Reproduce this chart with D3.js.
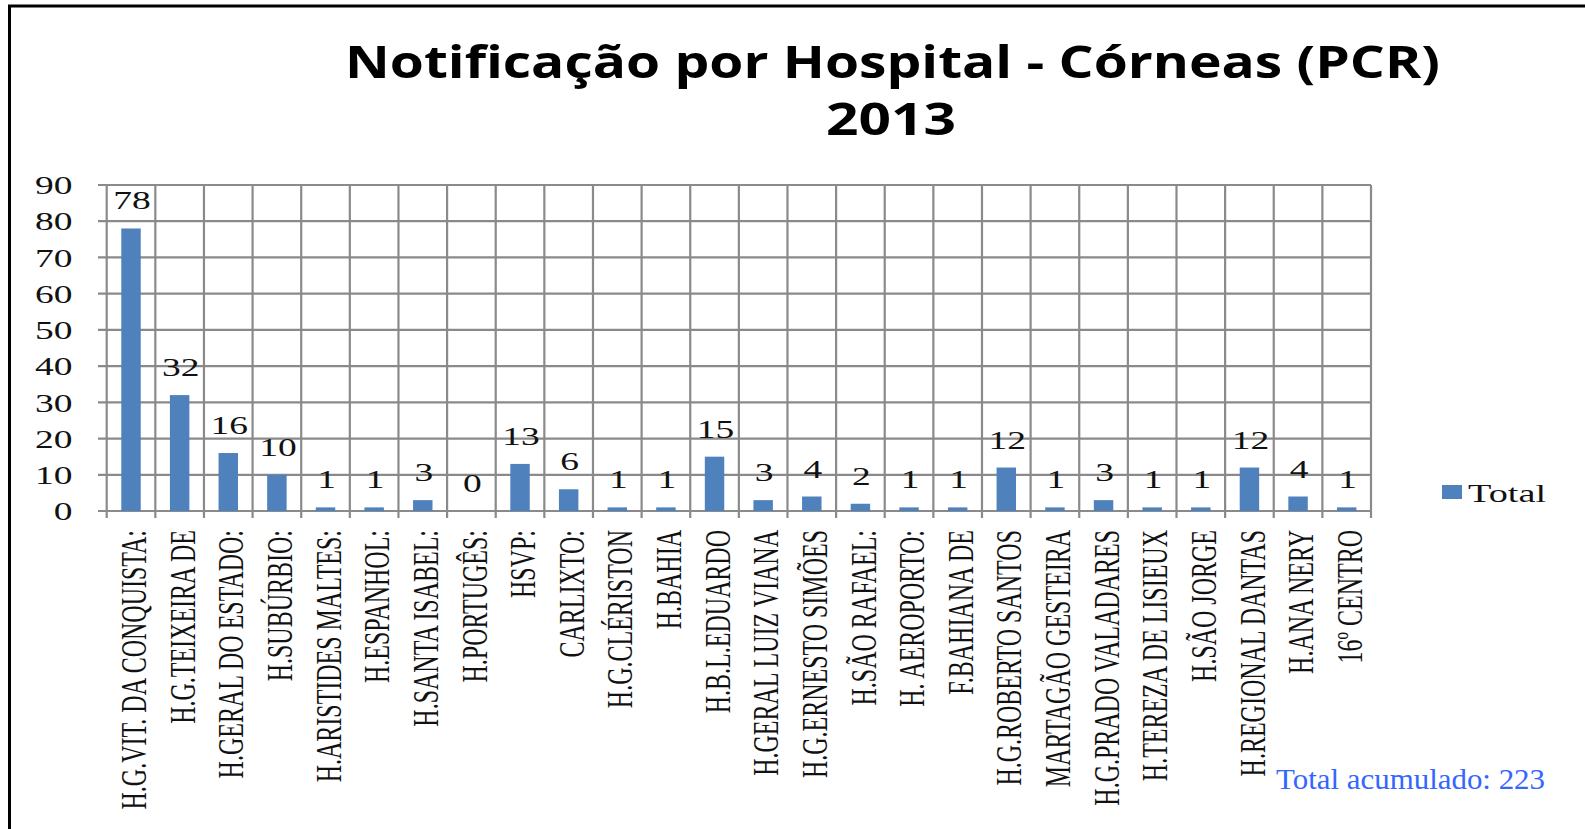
<!DOCTYPE html>
<html>
<head>
<meta charset="utf-8">
<title>Notificação por Hospital - Córneas (PCR) 2013</title>
<script src="https://d3js.org/d3.v7.min.js"></script>
<style>
  body { margin: 0; background: #fff; }
  svg { display: block; }
</style>
</head>
<body>
<div id="chart"></div>
<script>
// ---------------- data ----------------
const hospitals = [
  "H.G.VIT. DA CONQUISTA:", "H.G.TEIXEIRA DE", "H.GERAL DO ESTADO:", "H.SUBÚRBIO:",
  "H.ARISTIDES MALTES:", "H.ESPANHOL:", "H.SANTA ISABEL:", "H.PORTUGÊS:", "HSVP:",
  "CARLIXTO:", "H.G.CLÉRISTON", "H.BAHIA", "H.B.L.EDUARDO", "H.GERAL LUIZ VIANA",
  "H.G.ERNESTO SIMÕES", "H.SÃO RAFAEL:", "H. AEROPORTO:", "F.BAHIANA DE",
  "H.G.ROBERTO SANTOS", "MARTAGÃO GESTEIRA", "H.G.PRADO VALADARES",
  "H.TEREZA DE LISIEUX", "H.SÃO JORGE", "H.REGIONAL DANTAS", "H.ANA NERY", "16º CENTRO"
];
const totals = [78, 32, 16, 10, 1, 1, 3, 0, 13, 6, 1, 1, 15, 3, 4, 2, 1, 1, 12, 1, 3, 1, 1, 12, 4, 1];
const yTicks = [0, 10, 20, 30, 40, 50, 60, 70, 80, 90];
const titleLines = ["Notificação por Hospital - Córneas (PCR)", "2013"];
const seriesName = "Total";
const footNote = "Total acumulado: 223";

// ---------------- layout ----------------
const W = 1585, H = 829;
const plotLeft = 106.7, plotRight = 1371, plotTop = 185, plotBottom = 511;
const stretch = 1.5;           // the original picture is stretched sideways
const barColor = "#4f81bd";
const gridColor = "#8a8a8a";
const serif = "'Liberation Serif', 'DejaVu Serif', serif";

const svg = d3.select("#chart").append("svg")
  .attr("width", W).attr("height", H);

svg.append("rect").attr("width", W).attr("height", H).attr("fill", "#fff");

// frame lines (top and left only)
svg.append("line").attr("x1", 8).attr("x2", W).attr("y1", 6).attr("y2", 6)
  .attr("stroke", "#000").attr("stroke-width", 3);
svg.append("line").attr("x1", 9.5).attr("x2", 9.5).attr("y1", 5).attr("y2", H)
  .attr("stroke", "#000").attr("stroke-width", 3);

// ---------------- scales ----------------
const x = d3.scaleBand().domain(hospitals).range([plotLeft, plotRight]).padding(0);
const y = d3.scaleLinear().domain([0, 90]).range([plotBottom, plotTop]);
const barW = x.bandwidth() * 0.4;

// ---------------- grid ----------------
const grid = svg.append("g").attr("stroke", gridColor).attr("stroke-width", 2.2);
grid.selectAll(".h").data(yTicks).join("line")
  .attr("x1", plotLeft - 8.7).attr("x2", plotRight)
  .attr("y1", d => y(d)).attr("y2", d => y(d));
const bounds = hospitals.map(h => x(h)).concat([plotRight]);
grid.selectAll(".v").data(bounds).join("line")
  .attr("x1", d => d).attr("x2", d => d)
  .attr("y1", plotTop).attr("y2", plotBottom + 7);

// ---------------- y axis labels ----------------
const yAxis = svg.append("g")
  .attr("transform", `translate(${plotLeft},0)`)
  .call(d3.axisLeft(y).tickValues(yTicks).tickSize(0).tickPadding(0));
yAxis.select(".domain").remove();
yAxis.selectAll("text")
  .attr("x", null)
  .attr("dy", "0.35em")
  .attr("transform", `translate(-34.2,0) scale(${stretch},1)`)
  .attr("font-family", serif).attr("font-size", 25).attr("fill", "#111")
  .attr("text-anchor", "end");

// ---------------- bars ----------------
svg.append("g").selectAll("rect").data(totals).join("rect")
  .attr("x", (d, i) => x(hospitals[i]) + (x.bandwidth() - barW) / 2)
  .attr("width", barW)
  .attr("y", d => y(d))
  .attr("height", d => plotBottom - y(d))
  .attr("fill", barColor);

// value labels
svg.append("g").selectAll("text").data(totals).join("text")
  .attr("transform", (d, i) =>
    `translate(${x(hospitals[i]) + x.bandwidth() / 2 + 1},${y(d) - 19}) scale(${stretch},1)`)
  .attr("text-anchor", "middle")
  .attr("font-family", serif).attr("font-size", 25).attr("fill", "#111")
  .text(d => d);

// ---------------- x axis labels ----------------
const xAxis = svg.append("g")
  .attr("transform", `translate(0,${plotBottom})`)
  .call(d3.axisBottom(x).tickSize(0).tickPadding(0));
xAxis.select(".domain").remove();
xAxis.selectAll("text")
  .attr("y", null).attr("dy", "0.42em")
  .attr("transform", `translate(0,19) scale(${stretch},1) rotate(-90)`)
  .attr("text-anchor", "end")
  .attr("font-family", serif).attr("font-size", 24).attr("fill", "#111");

// ---------------- title ----------------
const title = svg.append("g")
  .attr("font-family", "'Open Sans', Lato, sans-serif")
  .attr("font-weight", 700).attr("fill", "#000");
title.append("text")
  .attr("x", 892.5).attr("y", 78).attr("font-size", 44)
  .attr("text-anchor", "middle")
  .attr("textLength", 1095).attr("lengthAdjust", "spacingAndGlyphs")
  .text(titleLines[0]);
title.append("text")
  .attr("x", 891).attr("y", 135).attr("font-size", 44)
  .attr("text-anchor", "middle")
  .attr("textLength", 130).attr("lengthAdjust", "spacingAndGlyphs")
  .text(titleLines[1]);

// ---------------- legend ----------------
const legend = svg.append("g").attr("transform", "translate(1442,485)");
legend.append("rect").attr("width", 20).attr("height", 14).attr("fill", barColor);
legend.append("text")
  .attr("transform", `translate(26,17) scale(${stretch},1)`)
  .attr("font-family", serif).attr("font-size", 25.5).attr("fill", "#111")
  .text(seriesName);

// ---------------- foot note ----------------
svg.append("text")
  .attr("x", 1276).attr("y", 789)
  .attr("font-family", serif).attr("font-size", 29).attr("fill", "#3366ff")
  .attr("textLength", 269).attr("lengthAdjust", "spacingAndGlyphs")
  .text(footNote);
</script>
</body>
</html>
